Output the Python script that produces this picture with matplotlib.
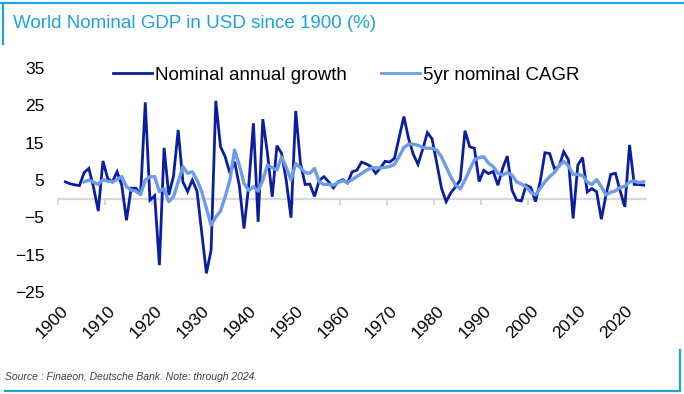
import matplotlib
matplotlib.use("Agg")
import matplotlib.pyplot as plt
from matplotlib.lines import Line2D

plt.rcParams['font.family'] = ['Liberation Sans', 'DejaVu Sans']

growth_years = list(range(1901, 2025))
nominal_growth = [
    4.5, 4.0, 3.7, 3.5, 7.0, 8.1, 3.0, -3.3, 10.1, 5.4,
    4.5, 7.2, 3.6, -5.8, 2.8, 2.8, 1.0, 25.8, -0.4, 0.8,
    -17.8, 13.6, 1.0, 6.0, 18.4, 4.5, 1.9, 5.0, 2.0, -9.0,
    -20.0, -13.8, 26.2, 13.9, 11.2, 6.8, 9.9, 3.5, -8.0, 3.5,
    20.2, -6.2, 21.3, 12.0, 0.5, 14.2, 12.1, 4.7, -5.1, 23.5,
    9.5, 3.8, 3.9, 0.6, 4.9, 5.9, 4.5, 2.9, 4.5, 5.1,
    4.2, 7.2, 7.6, 9.8, 9.3, 8.6, 6.8, 8.2, 10.0, 9.8,
    10.8, 16.4, 22.0, 16.1, 11.9, 9.2, 13.2, 17.7, 16.0, 9.5,
    2.8, -0.8, 1.6, 3.2, 5.0, 18.2, 13.9, 13.5, 4.6, 7.6,
    6.7, 7.3, 3.6, 8.1, 11.4, 2.3, -0.4, -0.6, 3.6, 3.0,
    -0.8, 4.6, 12.3, 12.1, 8.1, 8.6, 12.6, 10.4, -5.3, 9.0,
    11.0, 1.8, 2.7, 1.8, -5.5, 1.0, 6.5, 6.8, 2.1, -2.2,
    14.4, 3.8, 3.8, 3.6,
]

cagr_years = list(range(1905, 2025))
cagr_5yr = [
    4.5, 5.0, 4.4, 3.8, 5.1, 4.7, 4.5, 5.1, 5.9, 3.2,
    2.3, 2.0, 1.1, 5.0, 5.9, 5.9, 1.9, 2.7, -0.8, 0.5,
    4.5, 8.6, 6.8, 7.2, 5.0, 1.9, -2.6, -7.1, -4.9, -3.3,
    0.5, 5.0, 13.0, 9.0, 4.1, 2.2, 3.2, 2.0, 5.0, 9.0,
    8.3, 7.7, 11.2, 8.3, 5.0, 9.4, 8.3, 7.0, 6.8, 8.1,
    4.5, 3.8, 3.8, 3.6, 4.3, 4.8, 4.3, 5.1, 5.9, 6.7,
    7.6, 8.2, 8.3, 8.2, 8.4, 8.6, 9.2, 11.3, 13.7, 14.6,
    14.6, 14.3, 13.7, 13.5, 13.5, 13.0, 11.2, 8.5, 5.8, 3.6,
    2.6, 5.0, 7.7, 10.4, 11.0, 11.2, 9.5, 8.6, 6.8, 6.3,
    7.0, 6.3, 4.5, 3.9, 3.2, 1.7, 1.0, 2.8, 4.5, 5.9,
    7.0, 8.8, 10.0, 8.8, 6.5, 6.5, 6.2, 4.5, 3.8, 5.1,
    3.2, 1.0, 1.7, 2.1, 3.0, 3.3, 4.5, 4.7, 4.3, 4.5,
]

x_label_years = list(range(1900, 2021, 10))
y_ticks = [-25, -15, -5, 5, 15, 25, 35]

title = "World Nominal GDP in USD since 1900 (%)"
series_labels = ["Nominal annual growth", "5yr nominal CAGR"]
source = "Source : Finaeon, Deutsche Bank. Note: through 2024."

DARK = "#0A1E9E"
LIGHT = "#6E9BE8"
FRAME = "#1EA3DC"

W, H = 684, 394
fig = plt.figure(figsize=(W / 100, H / 100), dpi=100)
ax = fig.add_axes([58.3 / W, 1 - 292 / H, 587.7 / W, 224 / H])

ax.plot(growth_years, nominal_growth, color=DARK, lw=2.0, zorder=3,
        label=series_labels[0], solid_joinstyle='miter')
ax.plot(cagr_years, cagr_5yr, color=LIGHT, lw=2.4, zorder=4,
        label=series_labels[1])

ax.set_xlim(1899.5, 2024.5)
ax.set_ylim(-25, 35)
ax.set_yticks(y_ticks)
ax.tick_params(axis='y', length=0, labelsize=12.5, pad=10)
ax.set_xticks(x_label_years)
ax.set_xticklabels([str(y) for y in x_label_years], rotation=45,
                   ha='right', rotation_mode='anchor', fontsize=12.5)
ax.tick_params(axis='x', length=0, pad=8)
for s in ax.spines.values():
    s.set_visible(False)

# zero line with decade tick marks
sec = ax.secondary_xaxis(25 / 60)
sec.set_xticks([1899.5 + 10 * k for k in range(13)])
sec.set_xticklabels([])
sec.tick_params(axis='x', length=4, width=1.2, color='#D0D0D0', direction='out')
sec.spines['bottom'].set_color('#D9D9D9')
sec.spines['bottom'].set_linewidth(1.6)
sec.set_zorder(1)

leg = ax.legend(loc='center', bbox_to_anchor=(346 / W, 1 - 75 / H),
                bbox_transform=fig.transFigure, ncol=2, frameon=False,
                fontsize=13.5, handlelength=2.1, handletextpad=0.15,
                columnspacing=1.8)
for h in leg.get_lines():
    h.set_linewidth(2.0)

fig.text(13 / W, 1 - 23 / H, title, color=FRAME, fontsize=13.5,
         ha='left', va='center')
fig.text(5 / W, 1 - 377 / H, source, color='#404040', fontsize=7.5,
         style='italic', ha='left', va='center')

# frame decoration
fig.add_artist(Line2D([0, 1], [1 - 3 / H, 1 - 3 / H], color=FRAME, lw=1.6,
                      transform=fig.transFigure))
fig.add_artist(Line2D([3 / W, 3 / W], [1 - 3 / H, 1 - 44 / H], color=FRAME,
                      lw=1.6, transform=fig.transFigure))
fig.add_artist(Line2D([5 / W, 680 / W], [1 - 391 / H, 1 - 391 / H],
                      color=FRAME, lw=1.6, transform=fig.transFigure))
fig.add_artist(Line2D([680 / W, 680 / W], [1 - 350 / H, 1 - 391 / H],
                      color=FRAME, lw=1.6, transform=fig.transFigure))

fig.savefig("out.png", dpi=100)
